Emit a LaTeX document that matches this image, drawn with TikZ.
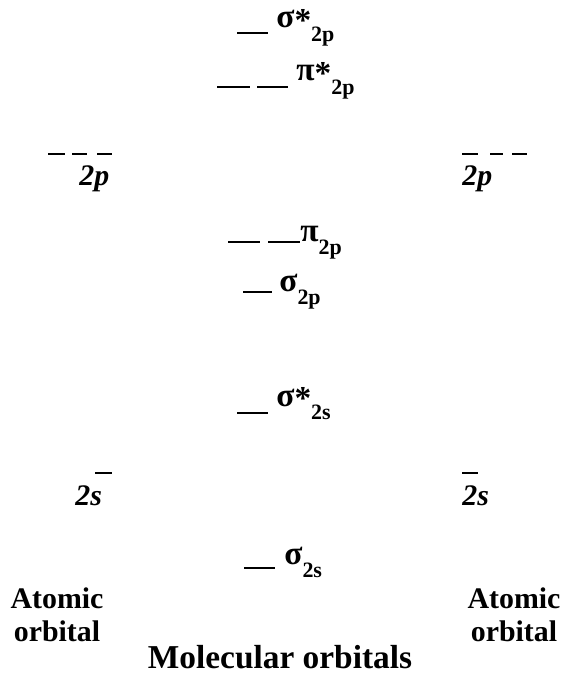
\documentclass[tikz,border=0pt]{standalone}
\usepackage{fontspec}
\setmainfont{Liberation Serif}
\usetikzlibrary{positioning}

\newcommand{\sub}[1]{\raisebox{-7.5pt}{\bfseries\fontsize{12.5}{12.5}\selectfont #1}}
\newcommand{\st}{\raisebox{-2pt}{*}}

\begin{document}
\begin{tikzpicture}[x=0.02cm, y=-0.02cm,
    level/.style={line width=1.5pt},
    aolevel/.style={line width=1.1pt},
    molab/.style={anchor=base west, inner sep=0pt, font=\bfseries\fontsize{19}{19}\selectfont},
    aolab/.style={anchor=base west, inner sep=0pt, font=\bfseries\itshape\fontsize{17}{17}\selectfont},
    caption/.style={align=center, inner sep=0pt, font=\bfseries\fontsize{17}{18.5}\selectfont},
]
\useasboundingbox (0,0) rectangle (563,682);

% molecular orbitals
\draw[level] (237,33) -- (268,33);
\node[molab] (sigstar2p) at (276,28) {σ\st\sub{2p}};
\draw[level] (217,87) -- (250,87);
\draw[level] (257,87) -- (288,87);
\node[molab] (pistar2p) at (296,81) {π\st\sub{2p}};
\draw[level] (228,242) -- (260,242);
\draw[level] (268,242) -- (300,242);
\node[molab] (pi2p) at (300,241) {π\sub{2p}};
\draw[level] (243,292) -- (272,292);
\node[molab] (sig2p) at (279,291) {σ\sub{2p}};
\draw[level] (237,413) -- (268,413);
\node[molab] (sigstar2s) at (276,406) {σ\st\sub{2s}};
\draw[level] (244,568) -- (275,568);
\node[molab] (sig2s) at (284,564) {σ\sub{2s}};

% atomic orbitals
\foreach \xa/\xb in {48/65, 72/87, 97/112, 462/478, 490/503, 512/527}
    \draw[aolevel] (\xa,154) -- (\xb,154);
\node[aolab] (left2p) at (79,186) {2p};
\node[aolab] (right2p) at (462,186) {2p};
\draw[aolevel] (95,473) -- (112,473);
\draw[aolevel] (462,473) -- (478,473);
\node[aolab] (left2s) at (75,505) {2s};
\node[aolab] (right2s) at (462,505) {2s};

% captions
\node[caption, anchor=base] (leftatom) at (57,641) {Atomic\\orbital};
\node[caption, anchor=base] (rightatom) at (514,641) {Atomic\\orbital};
\node[caption, anchor=base, font=\bfseries\fontsize{19}{19}\selectfont] (molecular) at (280,668) {Molecular orbitals};
\end{tikzpicture}
\end{document}
